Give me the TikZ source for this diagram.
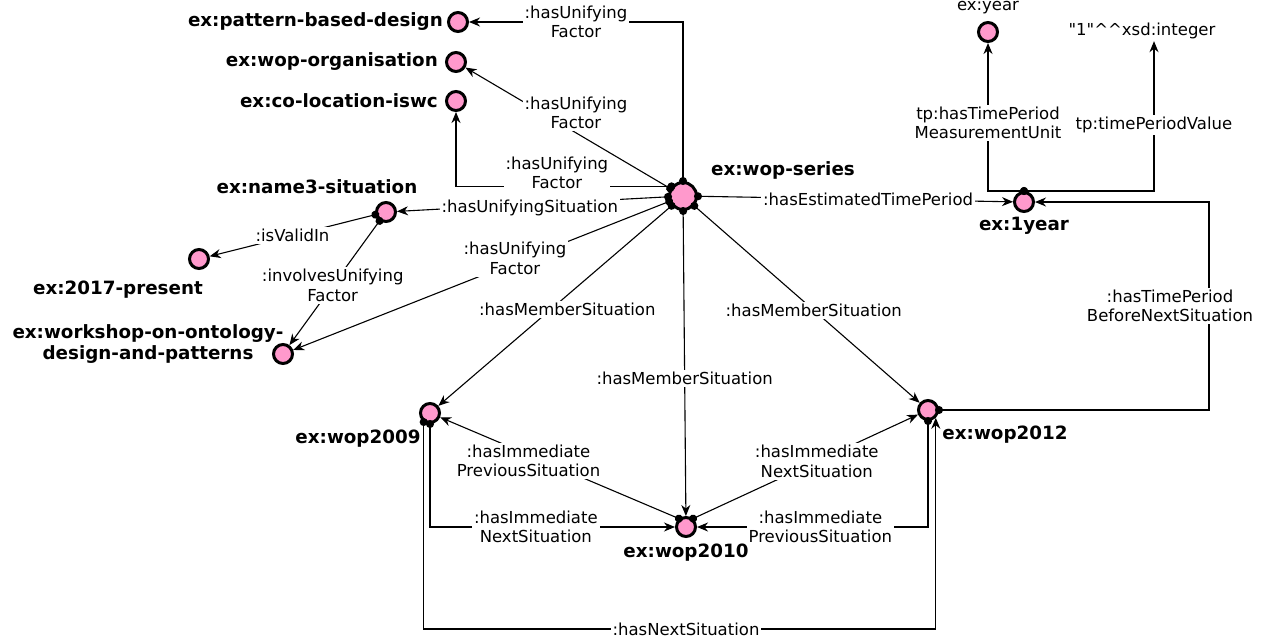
\documentclass[tikz,border=0pt]{standalone}
\usepackage{fontspec}
\setmainfont{DejaVu Sans}
\usetikzlibrary{arrows.meta}
\definecolor{indpink}{HTML}{FF99CC}
\newcommand{\relfont}{\fontsize{16.5}{19.5}\selectfont}
\newcommand{\indfont}{\fontsize{18.3}{21.5}\selectfont\bfseries}
\tikzset{
	ind/.style={circle, draw=black, fill=indpink, line width=3pt, minimum size=19pt, inner sep=0pt},
	bigind/.style={ind, minimum size=27pt},
	indname/.style={font=\indfont, inner sep=1pt, align=center},
	rel/.style={line width=1.1pt, shorten <=-4pt, {Circle[length=8pt]}-{Stealth[length=11pt,width=9pt,inset=3.5pt]}},
	rellabel/.style={fill=white, font=\relfont, align=center, inner sep=2pt}
}

\begin{document}
\begin{tikzpicture}[x=1pt,y=-1pt]
	\useasboundingbox (0,0) rectangle (1266,638);
	
	% individuals
	\node[ind] (pbd) at (458,22) {};
	\node[ind] (woo) at (456,62) {};
	\node[ind] (col) at (456,101) {};
	\node[bigind] (ws) at (683,196) {};
	\node[ind] (name3) at (386,212) {};
	\node[ind] (y2017) at (199,259) {};
	\node[ind] (wsh) at (283,354) {};
	\node[ind] (yr1) at (1024,202) {};
	\node[ind] (year) at (988,32) {};
	\node[ind] (wop2009) at (430,413) {};
	\node[ind] (wop2010) at (686,527) {};
	\node[ind] (wop2012) at (928,410) {};
	\node[font=\relfont, inner sep=2pt] (lit) at (1142,31) {\textquotedbl 1\textquotedbl\textasciicircum\textasciicircum xsd:integer};
	\coordinate (bnsbend) at (1209,202);
	\coordinate (nextbase) at (686,629);
	
	% names
	\node[indname, anchor=east] (pbdname) at (444,22) {ex:pattern-based-design};
	\node[indname, anchor=east] (wooname) at (439,62) {ex:wop-organisation};
	\node[indname, anchor=east] (colname) at (439,101) {ex:co-location-iswc};
	\node[indname] (wsname) at (783,170) {ex:wop-series};
	\node[indname] (name3name) at (317,187) {ex:name3-situation};
	\node[indname, anchor=east] (y2017name) at (204,290) {ex:2017-present};
	\node[indname] (wshname) at (148,344) {ex:workshop-on-ontology-\\design-and-patterns};
	\node[indname] (yr1name) at (1024,226) {ex:1year};
	\node[font=\relfont, inner sep=1pt] (yearname) at (988,8) {ex:year};
	\node[indname] (wop2009name) at (358,439) {ex:wop2009};
	\node[indname] (wop2010name) at (686,553) {ex:wop2010};
	\node[indname] (wop2012name) at (1005,435) {ex:wop2012};
	
	% relations
	\draw[rel] (ws.north) |- (pbd) node[rellabel, pos=0.75] (l1) {:hasUnifying\\Factor};
	\draw[rel] (ws) -- (woo) node[rellabel, pos=0.46, yshift=20pt] (l2) {:hasUnifying\\Factor};
	\draw[rel] (ws.140) -| (col) node[rellabel, pos=0.266, yshift=13.5pt] (l3) {:hasUnifying\\Factor};
	\draw[rel] (ws) -- (name3) node[rellabel, pos=0.51, yshift=-4pt] (l4) {:hasUnifyingSituation};
	\draw[rel] (ws) -- (wsh) node[rellabel, pos=0.41, yshift=4pt] (l5) {:hasUnifying\\Factor};
	\draw[rel] (name3) -- (y2017) node[rellabel, pos=0.5] (l6) {:isValidIn};
	\draw[rel] (name3) -- (wsh) node[rellabel, pos=0.52] (l7) {:involvesUnifying\\Factor};
	\draw[rel] (ws) -- (wop2009) node[rellabel, pos=0.52, xshift=17pt] (l8) {:hasMemberSituation};
	\draw[rel] (ws) -- (wop2010) node[rellabel, pos=0.55] (l9) {:hasMemberSituation};
	\draw[rel] (ws) -- (wop2012) node[rellabel, pos=0.53] (l10) {:hasMemberSituation};
	\draw[rel] (ws) -- (yr1) node[rellabel, pos=0.54] (l11) {:hasEstimatedTimePeriod};
	\draw[rel] (yr1.north) -| (year) node[rellabel, pos=0.73] (l12) {tp:hasTimePeriod\\MeasurementUnit};
	\draw[rel] (yr1.north) -| ([xshift=12pt]lit.south) node[rellabel, pos=0.72] (l13) {tp:timePeriodValue};
	\draw[rel] (wop2012.east) -| (bnsbend) node[rellabel, pos=0.75, xshift=-39pt] (l14) {:hasTimePeriod\\BeforeNextSituation} -- (yr1.east);
	\draw[rel] (wop2010.130) -- (wop2009) node[rellabel, pos=0.63, yshift=-6pt] (l15) {:hasImmediate\\PreviousSituation};
	\draw[rel] (wop2010.50) -- (wop2012) node[rellabel, pos=0.55] (l16) {:hasImmediate\\NextSituation};
	\draw[rel] (wop2009.south) |- (wop2010) node[rellabel, pos=0.716] (l17) {:hasImmediate\\NextSituation};
	\draw[rel] (wop2012.south) |- (wop2010) node[rellabel, pos=0.733] (l18) {:hasImmediate\\PreviousSituation};
	\draw[rel] (wop2009.235) |- (nextbase) node[rellabel] (l19) {:hasNextSituation} -| (wop2012.-45);
\end{tikzpicture}
\end{document}
